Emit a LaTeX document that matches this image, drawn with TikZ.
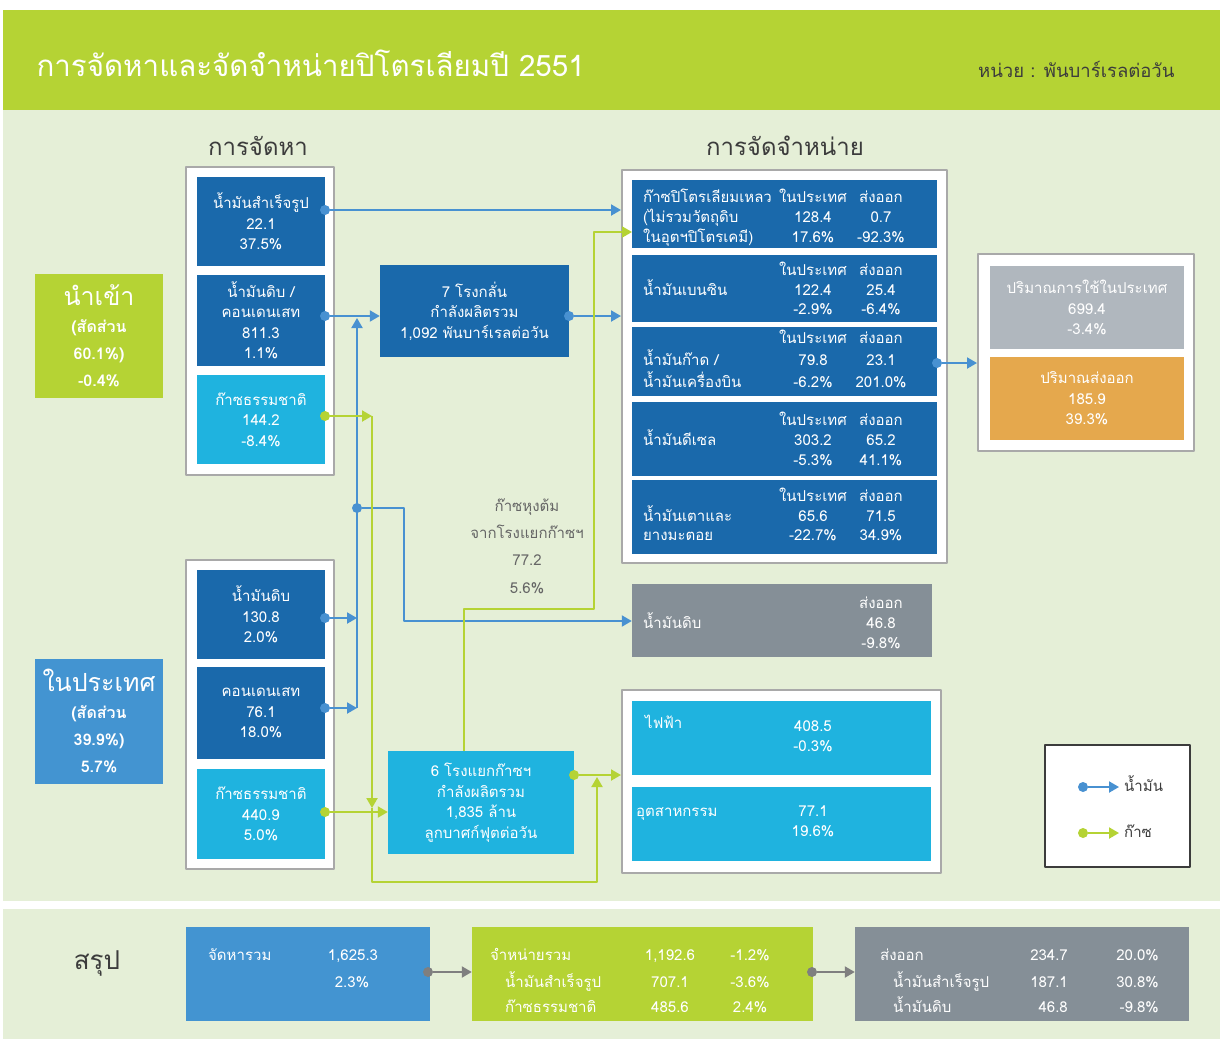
\documentclass[tikz,border=0pt]{standalone}
\usepackage{fontspec}
\setmainfont[Script=Thai]{Loma}
\usetikzlibrary{arrows.meta}

\definecolor{titlegreen}{HTML}{B5D334}
\definecolor{bggreen}{HTML}{E5EFD7}
\definecolor{oilblue}{HTML}{1A69AB}
\definecolor{gascyan}{HTML}{1FB3DF}
\definecolor{midblue}{HTML}{4394D1}
\definecolor{flowblue}{HTML}{4891D1}
\definecolor{slate}{HTML}{858F97}
\definecolor{lightslate}{HTML}{B0B7BE}
\definecolor{exporange}{HTML}{E5A84D}
\definecolor{framegray}{HTML}{A9A9A9}
\definecolor{inkgray}{HTML}{3C3C3C}
\definecolor{notegray}{HTML}{666666}
\definecolor{sumgray}{HTML}{7F7F7F}

\newcommand{\bodyfont}{\fontsize{15}{20.5}\selectfont}

\begin{document}
\begin{tikzpicture}[x=1pt, y=-1pt, line join=round]
\tikzset{
  sz/.style 2 args={minimum width=#1pt, minimum height=#2pt},
  frame/.style={draw=framegray, line width=2pt, fill=white, inner sep=0pt},
  panel/.style={fill=#1, text=white, inner sep=0pt, align=center, font=\bodyfont},
  cell/.style={text=white, inner sep=0pt, font=\bodyfont, text height=10pt, text depth=0pt},
  dot/.style={circle, fill=#1, inner sep=0pt, minimum size=10pt},
  flow/.style={draw=#1, line width=2pt, -{Triangle[length=10pt,width=11pt]}},
}
% backgrounds
\fill[white] (0,0) rectangle (1220,1039);
\fill[titlegreen] (3,10) rectangle (1220,110);
\fill[bggreen] (3,110) rectangle (1220,901);
\fill[bggreen] (3,909) rectangle (1220,1039);

% title
\node[anchor=west, text=white, font=\fontsize{29.5}{30}\selectfont] (title) at (33,63) {การจัดหาและจัดจำหน่ายปิโตรเลียมปี 2551};
\node[anchor=east, text=inkgray, font=\fontsize{18.5}{19}\selectfont] (unit) at (1178,69) {หน่วย : พันบาร์เรลต่อวัน};
\node[text=inkgray, font=\fontsize{24}{24}\selectfont] (hSupply) at (258,146) {การจัดหา};
\node[text=inkgray, font=\fontsize{24}{24}\selectfont] (hDist) at (785,146) {การจัดจำหน่าย};

% side labels
\node[panel=titlegreen, sz={128}{124}, font=\fontsize{16}{27}\selectfont\bfseries] (imp) at (99,336)
  {{\mdseries\fontsize{25}{25}\selectfont นำเข้า}\\(สัดส่วน\\60.1\%)\\-0.4\%};
\node[panel=midblue, sz={128}{125}, font=\fontsize{16}{27}\selectfont\bfseries] (dom) at (99,721)
  {{\mdseries\fontsize{25}{25}\selectfont ในประเทศ}\\(สัดส่วน\\39.9\%)\\5.7\%};

% supply
\node[frame, sz={148}{308}] (impFrame) at (260,321) {};
\node[panel=oilblue, sz={128}{89}] (impProd) at (261,221.5) {น้ำมันสำเร็จรูป\\22.1\\37.5\%};
\node[panel=oilblue, sz={128}{91}] (impCrude) at (261,320) {น้ำมันดิบ /\\คอนเดนเสท\\811.3\\1.1\%};
\node[panel=gascyan, sz={128}{89}] (impGas) at (261,419.5) {ก๊าซธรรมชาติ\\144.2\\-8.4\%};
\node[frame, sz={148}{309}] (domFrame) at (260,714) {};
\node[panel=oilblue, sz={128}{89}] (domCrude) at (261,614.5) {น้ำมันดิบ\\130.8\\2.0\%};
\node[panel=oilblue, sz={128}{92}] (domCond) at (261,713) {คอนเดนเสท\\76.1\\18.0\%};
\node[panel=gascyan, sz={128}{90}] (domGas) at (261,814) {ก๊าซธรรมชาติ\\440.9\\5.0\%};

% plants
\node[panel=oilblue, sz={189}{92}] (refinery) at (474.5,311) {7 โรงกลั่น\\กำลังผลิตรวม\\1,092 พันบาร์เรลต่อวัน};
\node[panel=gascyan, sz={186}{103}] (gsp) at (481,802.5) {6 โรงแยกก๊าซฯ\\กำลังผลิตรวม\\1,835 ล้าน\\ลูกบาศก์ฟุตต่อวัน};
\node[text=notegray, align=center, font=\fontsize{15}{27.3}\selectfont] (lpgNote) at (527,546) {ก๊าซหุงต้ม\\จากโรงแยกก๊าซฯ\\77.2\\5.6\%};

% distribution
\node[frame, sz={325}{393}] (distFrame) at (784.5,366.5) {};
\foreach \name/\yc/\h in {lpg/214/68, gasoline/288/67, jet/361/69, diesel/439/74, fueloil/517/74}
  \node[panel=oilblue, sz={305}{\h}] (\name) at (784.5,\yc) {};
\foreach \yy/\txt in {197/ก๊าซปิโตรเลียมเหลว, 217/(ไม่รวมวัตถุดิบ, 237/ในอุตฯปิโตรเคมี), 290/น้ำมันเบนซิน,
    360/{น้ำมันก๊าด /}, 382/น้ำมันเครื่องบิน, 440/น้ำมันดีเซล, 516/น้ำมันเตาและ, 535/ยางมะตอย}
  \node[cell, anchor=west] (lb\yy) at (643,\yy) {\txt};
\foreach \yy in {197,270,338,420,496}{
  \node[cell] (hd\yy) at (813,\yy) {ในประเทศ};
  \node[cell] (he\yy) at (881,\yy) {ส่งออก};
}
\foreach \yy/\dv/\ev in {217/128.4/0.7, 237/17.6\%/-92.3\%, 290/122.4/25.4, 309/-2.9\%/-6.4\%,
    360/79.8/23.1, 382/-6.2\%/201.0\%, 440/303.2/65.2, 460/-5.3\%/41.1\%, 516/65.6/71.5, 535/-22.7\%/34.9\%}{
  \node[cell] (dv\yy) at (813,\yy) {\dv};
  \node[cell] (ev\yy) at (881,\yy) {\ev};
}

\node[panel=slate, sz={300}{73}] (crudeExp) at (782,620.5) {};
\node[cell, anchor=west] (ceLabel) at (643,623) {น้ำมันดิบ};
\node[cell] (ceHead) at (881,603) {ส่งออก};
\node[cell] (ceVal) at (881,623) {46.8};
\node[cell] (cePct) at (881,643) {-9.8\%};

\node[frame, sz={319}{183}] (gasFrame) at (781.5,781.5) {};
\node[panel=gascyan, sz={299}{74}] (power) at (781.5,738) {};
\node[panel=gascyan, sz={299}{74}] (industry) at (781.5,824) {};
\node[cell, anchor=west] (pwLabel) at (645,723) {ไฟฟ้า};
\node[cell] (pwVal) at (813,726) {408.5};
\node[cell] (pwPct) at (813,746) {-0.3\%};
\node[cell, anchor=west] (inLabel) at (636,811) {อุตสาหกรรม};
\node[cell] (inVal) at (813,811) {77.1};
\node[cell] (inPct) at (813,831) {19.6\%};

\node[frame, sz={216}{197}] (consFrame) at (1086,352.5) {};
\node[panel=lightslate, sz={194}{83}] (useDom) at (1087,307.5) {ปริมาณการใช้ในประเทศ\\699.4\\-3.4\%};
\node[panel=exporange, sz={194}{83}] (useExp) at (1087,398.5) {ปริมาณส่งออก\\185.9\\39.3\%};

% legend
\node[draw=inkgray, line width=1.2pt, fill=white, sz={145}{122}] (legend) at (1117.5,806) {};
\node[dot=flowblue] (lgOilDot) at (1083,787) {};
\node[dot=titlegreen] (lgGasDot) at (1083,833) {};
\coordinate (lgOilTip) at (1119,787);
\coordinate (lgGasTip) at (1119,833);
\draw[flow=flowblue] (lgOilDot) -- (lgOilTip);
\draw[flow=titlegreen] (lgGasDot) -- (lgGasTip);
\node[cell, text=inkgray, anchor=west] (lgOil) at (1124,786) {น้ำมัน};
\node[cell, text=inkgray, anchor=west] (lgGas) at (1124,832) {ก๊าซ};

% oil flows
\node[dot=flowblue] (dImpProd) at (325,210) {};
\node[dot=flowblue] (dImpCrude) at (325,316) {};
\node[dot=flowblue] (dDomCrude) at (325,618) {};
\node[dot=flowblue] (dDomCond) at (325,708) {};
\node[dot=flowblue] (dRefOut) at (569,316) {};
\node[dot=flowblue] (dDistOut) at (937,363) {};
\coordinate (busTop) at (357,318);
\coordinate (busBot) at (357,708);
\coordinate (crudeBend) at (404,621);
\draw[flow=flowblue] (dImpProd) -- (distFrame.west |- dImpProd);
\draw[flow=flowblue] (dImpCrude) -- (refinery.west |- dImpCrude);
\draw[flow=flowblue] (dRefOut) -- (distFrame.west |- dRefOut);
\draw[flow=flowblue] (busBot) -- (busTop);
\draw[flow=flowblue] (dDomCrude) -- (busBot |- dDomCrude);
\draw[flow=flowblue] (dDomCond) -- (busBot);
\node[dot=flowblue] (dJunction) at (357,508) {};
\draw[flow=flowblue] (dJunction) -| (crudeBend) -- (crudeExp.west |- crudeBend);
\draw[flow=flowblue] (dDistOut) -- (consFrame.west |- dDistOut);

% gas flows
\node[dot=titlegreen] (dImpGas) at (325,416) {};
\node[dot=titlegreen] (dDomGas) at (325,812) {};
\node[dot=titlegreen] (dGspOut) at (574,775) {};
\coordinate (gbusTop) at (372,416);
\coordinate (gbusMid) at (372,808);
\coordinate (gbusBot) at (372,882);
\coordinate (gspJoin) at (597,777);
\coordinate (lpgA) at (464,751);
\coordinate (lpgB) at (594,609);
\coordinate (lpgIn) at (632,232);
\draw[flow=titlegreen] (dImpGas) -- (gbusTop);
\draw[flow=titlegreen] (gbusTop) -- (gbusMid);
\draw[flow=titlegreen] (gbusMid) -- (gbusBot) -| (gspJoin);
\draw[flow=titlegreen] (dDomGas) -- (gsp.west |- dDomGas);
\draw[flow=titlegreen] (dGspOut) -- (gasFrame.west |- dGspOut);
\draw[flow=titlegreen] (lpgA) |- (lpgB) |- (lpgIn);

% summary
\node[text=inkgray, font=\fontsize{26}{26}\selectfont] (sumTitle) at (97,963) {สรุป};
\node[panel=midblue, sz={244}{94}] (sumSupply) at (308,974) {};
\node[panel=titlegreen, sz={341}{94}] (sumDist) at (642.5,974) {};
\node[panel=slate, sz={334}{94}] (sumExp) at (1022,974) {};
\node[cell, anchor=west] (sa1) at (208,955) {จัดหารวม};
\node[cell] (sa2) at (353,955) {1,625.3};
\node[cell] (sa3) at (352,982) {2.3\%};
\foreach \yy/\txt/\num/\pct [count=\i] in {955/จำหน่ายรวม/{1,192.6}/-1.2\%, 982/\hspace{15pt}น้ำมันสำเร็จรูป/707.1/-3.6\%, 1007/\hspace{15pt}ก๊าซธรรมชาติ/485.6/2.4\%}{
  \node[cell, anchor=west] (sb\i) at (490,\yy) {\txt};
  \node[cell] (sbn\i) at (670,\yy) {\num};
  \node[cell] (sbp\i) at (750,\yy) {\pct};
}
\foreach \yy/\txt/\num/\pct [count=\i] in {955/ส่งออก/234.7/20.0\%, 982/\hspace{13pt}น้ำมันสำเร็จรูป/187.1/30.8\%, 1007/\hspace{13pt}น้ำมันดิบ/46.8/-9.8\%}{
  \node[cell, anchor=west] (sc\i) at (880,\yy) {\txt};
  \node[cell, anchor=east] (scn\i) at (1068,\yy) {\num};
  \node[cell, anchor=east] (scp\i) at (1159,\yy) {\pct};
}
\node[dot=sumgray] (dSumA) at (428,972) {};
\node[dot=sumgray] (dSumB) at (812,972) {};
\draw[flow=sumgray] (dSumA) -- (sumDist.west |- dSumA);
\draw[flow=sumgray] (dSumB) -- (sumExp.west |- dSumB);
\end{tikzpicture}
\end{document}
